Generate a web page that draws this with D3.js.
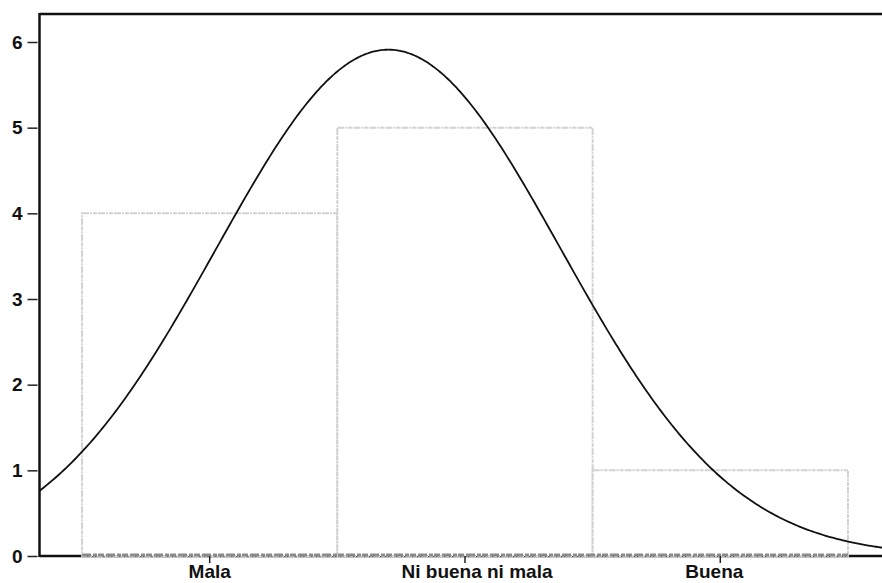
<!DOCTYPE html>
<html>
<head>
<meta charset="utf-8">
<script src="https://cdn.jsdelivr.net/npm/d3@7"></script>
<style>
  html, body { margin: 0; padding: 0; background: #fff; }
  svg { display: block; font-family: "Liberation Sans", Arial, sans-serif; }
</style>
</head>
<body>
<svg id="chart" width="882" height="583"></svg>
<script>
// categories and counts
const categories = ["Mala", "Ni buena ni mala", "Buena"];
const counts = [4, 5, 1];
const yTicks = [0, 1, 2, 3, 4, 5, 6];

// normal curve parameters (fitted to the coded responses 1..3)
const curveMean = 1.7;
const curveSd = 0.675;
const curveN = 10;

const W = 882, H = 583;
const svg = d3.select("#chart");

const x = d3.scaleLinear().domain([1 / 3, 11 / 3]).range([39.5, 890.5]);
const y = d3.scaleLinear().domain([0, 6]).range([556, 42]);

svg.append("defs").append("clipPath")
    .attr("id", "plot-clip")
    .append("rect")
    .attr("x", x(1 / 3)).attr("y", 14)
    .attr("width", W).attr("height", y(0) - 14);

// frame lines (top + left)
svg.append("line")
    .attr("x1", x(1 / 3)).attr("x2", W + 10)
    .attr("y1", 14).attr("y2", 14)
    .attr("stroke", "#111").attr("stroke-width", 2.5);
svg.append("line")
    .attr("x1", x(1 / 3)).attr("x2", x(1 / 3))
    .attr("y1", 13).attr("y2", y(0) + 1)
    .attr("stroke", "#111").attr("stroke-width", 2.5);

// x axis baseline
svg.append("line")
    .attr("x1", x(1 / 3)).attr("x2", W + 10)
    .attr("y1", y(0)).attr("y2", y(0))
    .attr("stroke", "#111").attr("stroke-width", 2.5);

// bars
const bars = svg.append("g");
bars.selectAll("rect")
    .data(counts)
    .join("rect")
    .attr("x", (d, i) => x(i + 0.5))
    .attr("width", x(1.5) - x(0.5))
    .attr("y", d => y(d))
    .attr("height", d => y(0) - y(d))
    .attr("fill", "#fff")
    .attr("stroke", "#d2d2d2")
    .attr("stroke-width", 2)
    .attr("stroke-dasharray", "7,1,2,1,4,1");

// the gray bottom edge of the bars over the axis
bars.append("line")
    .attr("x1", x(0.5)).attr("x2", x(3.5))
    .attr("y1", y(0) - 1).attr("y2", y(0) - 1)
    .attr("stroke", "#8a8a8a").attr("stroke-width", 3)
    .attr("stroke-dasharray", "9,2,4,1,6,2");

// y axis ticks and labels
const yAxis = svg.append("g")
    .attr("transform", `translate(${x(1 / 3) - 2},0)`)
    .call(d3.axisLeft(y).tickValues(yTicks).tickSize(10).tickPadding(5).tickFormat(d3.format("d")));
yAxis.select(".domain").remove();
yAxis.selectAll("line").attr("stroke", "#222").attr("stroke-width", 1.5);
yAxis.selectAll("text")
    .attr("fill", "#111")
    .style("font-size", "19px")
    .style("font-weight", "bold")
    .style("font-family", "\"Liberation Sans\", Arial, sans-serif");

// x ticks and category labels
const xg = svg.append("g");
xg.selectAll("line")
    .data(categories)
    .join("line")
    .attr("x1", (d, i) => x(i + 1)).attr("x2", (d, i) => x(i + 1))
    .attr("y1", y(0)).attr("y2", y(0) + 7)
    .attr("stroke", "#222").attr("stroke-width", 1.5);
xg.selectAll("text")
    .data(categories)
    .join("text")
    .attr("x", (d, i) => x(i + 1) + (i === 1 ? 12 : i === 2 ? -6 : 0))
    .attr("y", 578)
    .attr("text-anchor", "middle")
    .attr("fill", "#111")
    .style("font-size", "19px")
    .style("font-weight", "bold")
    .text(d => d);

// normal curve
const pdfScale = curveN / (curveSd * Math.sqrt(2 * Math.PI));
const curveXs = d3.range(0.3, 3.75, 0.01);
const line = d3.line()
    .x(v => x(v))
    .y(v => y(pdfScale * Math.exp(-0.5 * Math.pow((v - curveMean) / curveSd, 2))))
    .curve(d3.curveBasis);
svg.append("path")
    .datum(curveXs)
    .attr("clip-path", "url(#plot-clip)")
    .attr("d", line)
    .attr("fill", "none")
    .attr("stroke", "#111")
    .attr("stroke-width", 1.8);
</script>
</body>
</html>
